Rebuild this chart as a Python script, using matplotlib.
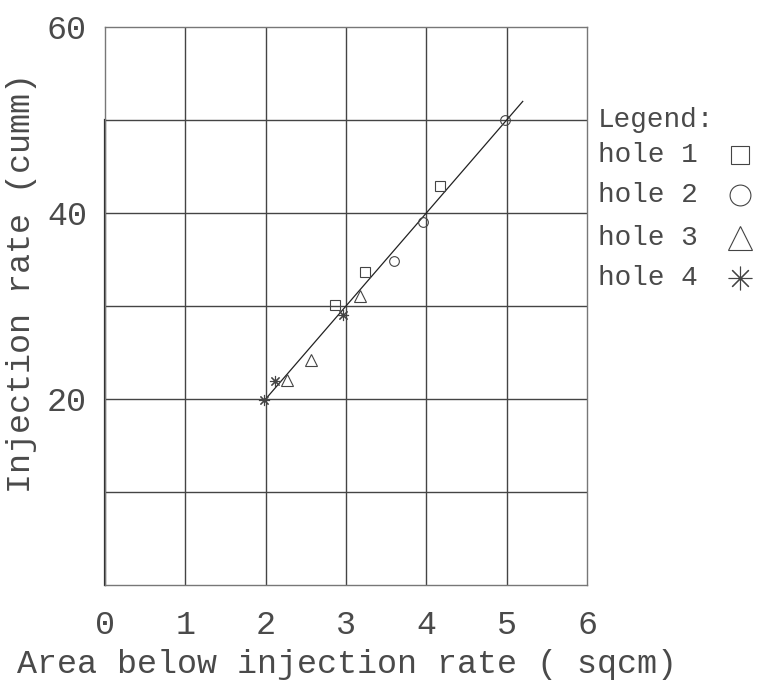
import matplotlib.pyplot as plt
from matplotlib.lines import Line2D

# data
hole1_x = [2.86, 3.24, 4.17]
hole1_y = [30.1, 33.7, 42.9]
hole2_x = [3.60, 3.96, 4.98]
hole2_y = [34.8, 39.0, 50.0]
hole3_x = [2.27, 2.56, 3.18]
hole3_y = [22.0, 24.2, 31.1]
hole4_x = [1.98, 2.12, 2.96]
hole4_y = [19.9, 21.9, 29.0]
fit_x = [2.0, 5.2]
fit_y = [20.0, 52.0]

x_ticks = [0, 1, 2, 3, 4, 5, 6]
y_ticks = [20, 40, 60]
legend_labels = ["hole 1", "hole 2", "hole 3", "hole 4"]

FONT = "Liberation Mono"
TXT = "#4a4a4a"
GRID = "#444444"

fig = plt.figure(figsize=(7.62, 6.95), dpi=100)
ax = fig.add_axes([105 / 762, 110 / 695, 482 / 762, 558 / 695])

ax.set_xlim(0, 6)
ax.set_ylim(0, 60)
for v in range(1, 6):
    ax.axvline(v, color=GRID, linewidth=1.0)
for v in range(10, 60, 10):
    ax.axhline(v, color=GRID, linewidth=1.0)
for s in ax.spines.values():
    s.set_color("#777777")
    s.set_linewidth(1.0)
ax.plot([0, 0], [0, 50], color="#222222", linewidth=1.6, clip_on=False)

ax.plot(fit_x, fit_y, color="#222222", linewidth=0.9, clip_on=False)

mk = dict(linestyle="none", color="#444444", markerfacecolor="none", markeredgewidth=0.8)
ax.plot(hole1_x, hole1_y, marker="s", markersize=7, **mk)
ax.plot(hole2_x, hole2_y, marker="o", markersize=7, **mk)
ax.plot(hole3_x, hole3_y, marker="^", markersize=9, **mk)
ax.plot(hole4_x, hole4_y, marker=(8, 2, 0), markersize=8, **mk)

ax.set_xticks(x_ticks)
ax.set_xticklabels([str(t) for t in x_ticks], fontfamily=FONT, fontsize=24, color=TXT)
ax.set_yticks(y_ticks)
ax.set_yticklabels([str(t) for t in y_ticks], fontfamily=FONT, fontsize=24, color=TXT)
ax.tick_params(length=0)
ax.tick_params(axis="y", pad=13)
ax.tick_params(axis="x", pad=18)

fig.text(347 / 762, 1 - 665 / 695, "Area below injection rate ( sqcm)",
         ha="center", va="center", fontfamily=FONT, fontsize=24, color=TXT)
fig.text(22 / 762, 1 - 283 / 695, "Injection rate (cumm)", rotation=90,
         ha="center", va="center", fontfamily=FONT, fontsize=24, color=TXT)

# legend drawn as text plus markers to the right of the axes
ax.text(1.023, 0.833, "Legend:", transform=ax.transAxes, ha="left", va="center",
        fontfamily=FONT, fontsize=20, color=TXT)
leg_y = [0.771, 0.699, 0.622, 0.550]
leg_markers = [("s", 13), ("o", 15), ("^", 17), ((8, 2, 0), 17)]
for lab, yy, (m, ms) in zip(legend_labels, leg_y, leg_markers):
    ax.text(1.023, yy, lab, transform=ax.transAxes, ha="left", va="center",
            fontfamily=FONT, fontsize=20, color=TXT)
    ax.add_line(Line2D([1.317], [yy], transform=ax.transAxes, marker=m, markersize=ms,
                       clip_on=False, **mk))

fig.savefig("out.png", dpi=100)
